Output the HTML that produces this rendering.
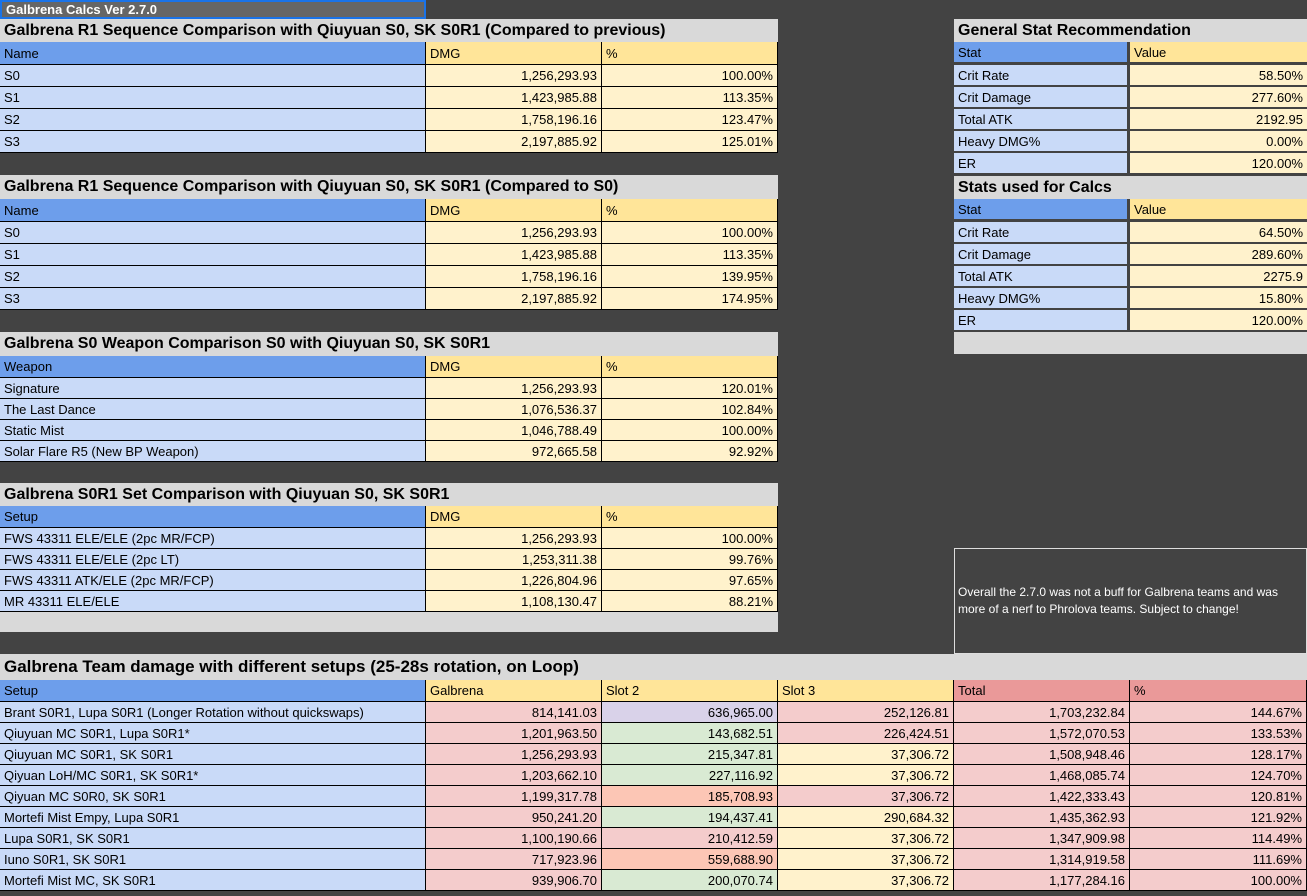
<!DOCTYPE html>
<html><head><meta charset="utf-8"><style>
html,body{margin:0;padding:0;}
body{width:1307px;height:896px;background:#434343;position:relative;overflow:hidden;font-family:"Liberation Sans",Arial,sans-serif;}
.c{position:absolute;box-sizing:border-box;font-size:13px;color:#000;white-space:nowrap;overflow:hidden;padding:0 4px;display:flex;align-items:center;}
.r{justify-content:flex-end;}
.b{border-right:1px solid #000;border-bottom:1px solid #000;}
.h{font-weight:bold;font-size:16px;background:#d9d9d9;}
</style></head><body>
<script>
const COLX=[0,426,602,778,954,1130,1307];
function cell(x1,x2,y,h,text,bg,cls,name,inter){
  const d=document.createElement('div');
  d.className='c '+(cls||'');
  d.style.left=x1+'px';d.style.top=y+'px';d.style.width=(x2-x1)+'px';d.style.height=h+'px';
  if(bg)d.style.background=bg;
  d.textContent=text;
  
  
  document.body.appendChild(d);return d;
}
const BLUEH='#6d9eeb',BLUE='#c9daf8',YELH='#ffe599',YEL='#fff2cc',REDH='#ea9999',RED='#f4cccc',GRN='#d9ead3',PUR='#d9d2e9',SAL='#fcc6b5';

let t=cell(0,426,0,19,'Galbrena Calcs Ver 2.7.0','#666666','','sheet-title',true);
t.style.color='#fff';t.style.fontWeight='bold';t.style.border='2px solid #1a73e8';t.style.fontSize='13px';

const seqNames=['S0','S1','S2','S3'];
const seqDmg=['1,256,293.93','1,423,985.88','1,758,196.16','2,197,885.92'];
const seqPctPrev=['100.00%','113.35%','123.47%','125.01%'];
const seqPctS0=['100.00%','113.35%','139.95%','174.95%'];
const wpnNames=['Signature','The Last Dance','Static Mist','Solar Flare R5 (New BP Weapon)'];
const wpnDmg=['1,256,293.93','1,076,536.37','1,046,788.49','972,665.58'];
const wpnPct=['120.01%','102.84%','100.00%','92.92%'];
const setNames=['FWS 43311 ELE/ELE (2pc MR/FCP)','FWS 43311 ELE/ELE (2pc LT)','FWS 43311 ATK/ELE (2pc MR/FCP)','MR 43311 ELE/ELE'];
const setDmg=['1,256,293.93','1,253,311.38','1,226,804.96','1,108,130.47'];
const setPct=['100.00%','99.76%','97.65%','88.21%'];

function table3(hy,title,first,names,dmg,pct,rows,rh,prefix){
  cell(0,778,hy,rows[0]-hy,title,null,'h',prefix+'-title');
  cell(0,426,rows[0],rows[1]-rows[0],first,BLUEH,'b',prefix+'-header-name');
  cell(426,602,rows[0],rows[1]-rows[0],'DMG',YELH,'b',prefix+'-header-dmg');
  cell(602,778,rows[0],rows[1]-rows[0],'%',YELH,'b',prefix+'-header-pct');
  for(let i=0;i<names.length;i++){
    const y=rows[1]+i*rh;
    cell(0,426,y,rh,names[i],BLUE,'b',prefix+'-name-'+i);
    cell(426,602,y,rh,dmg[i],YEL,'b r',prefix+'-dmg-'+i);
    cell(602,778,y,rh,pct[i],YEL,'b r',prefix+'-pct-'+i);
  }
}
table3(19,'Galbrena R1 Sequence Comparison with Qiuyuan S0, SK S0R1 (Compared to previous)','Name',seqNames,seqDmg,seqPctPrev,[42,65],22,'seq-prev');
table3(175,'Galbrena R1 Sequence Comparison with Qiuyuan S0, SK S0R1 (Compared to S0)','Name',seqNames,seqDmg,seqPctS0,[199,222],22,'seq-s0');
table3(332,'Galbrena S0 Weapon Comparison S0 with Qiuyuan S0, SK S0R1','Weapon',wpnNames,wpnDmg,wpnPct,[356,378],21,'weapon');
table3(483,'Galbrena S0R1 Set Comparison with Qiuyuan S0, SK S0R1','Setup',setNames,setDmg,setPct,[506,528],21,'set');
cell(0,778,612,20,'','#d9d9d9','','set-footer');

const statNames=['Crit Rate','Crit Damage','Total ATK','Heavy DMG%','ER'];
const recVals=['58.50%','277.60%','2192.95','0.00%','120.00%'];
const usedVals=['64.50%','289.60%','2275.9','15.80%','120.00%'];
function stats(y,title,vals,prefix){
  cell(954,1307,y,23,title,null,'h',prefix+'-title');
  let a=cell(954,1130,y+23,23,'Stat',BLUEH,'',prefix+'-header-stat');a.style.borderRight='3px solid #434343';a.style.borderBottom='3px solid #434343';
  a=cell(1130,1307,y+23,23,'Value',YELH,'',prefix+'-header-value');a.style.borderBottom='3px solid #434343';
  for(let i=0;i<5;i++){
    const yy=y+46+i*22;
    a=cell(954,1130,yy,22,statNames[i],BLUE,'',prefix+'-stat-'+i);a.style.borderRight='3px solid #434343';a.style.borderBottom='2px solid #434343';
    a=cell(1130,1307,yy,22,vals[i],YEL,'r',prefix+'-value-'+i);a.style.borderBottom='2px solid #434343';
  }
}
stats(19,'General Stat Recommendation',recVals,'rec');
stats(176,'Stats used for Calcs',usedVals,'used');
cell(954,1307,332,22,'','#d9d9d9','','stats-footer');

let n=cell(954,1307,548,106,'Overall the 2.7.0 was not a buff for Galbrena teams and was more of a nerf to Phrolova teams. Subject to change!',null,'','note-box');
n.style.whiteSpace='normal';n.style.color='#fff';n.style.fontSize='12px';n.style.border='1px solid #ddd';n.style.lineHeight='17px';n.style.paddingLeft='3px';n.style.paddingRight='14px';

const teamNames=['Brant S0R1, Lupa S0R1 (Longer Rotation without quickswaps)','Qiuyuan MC S0R1, Lupa S0R1*','Qiuyuan MC S0R1, SK S0R1','Qiyuan LoH/MC S0R1, SK S0R1*','Qiyuan MC S0R0, SK S0R1','Mortefi Mist Empy, Lupa S0R1','Lupa S0R1, SK S0R1','Iuno S0R1, SK  S0R1','Mortefi Mist MC, SK S0R1'];
const galbDmg=['814,141.03','1,201,963.50','1,256,293.93','1,203,662.10','1,199,317.78','950,241.20','1,100,190.66','717,923.96','939,906.70'];
const slot2Dmg=['636,965.00','143,682.51','215,347.81','227,116.92','185,708.93','194,437.41','210,412.59','559,688.90','200,070.74'];
const slot3Dmg=['252,126.81','226,424.51','37,306.72','37,306.72','37,306.72','290,684.32','37,306.72','37,306.72','37,306.72'];
const totalDmg=['1,703,232.84','1,572,070.53','1,508,948.46','1,468,085.74','1,422,333.43','1,435,362.93','1,347,909.98','1,314,919.58','1,177,284.16'];
const totalPct=['144.67%','133.53%','128.17%','124.70%','120.81%','121.92%','114.49%','111.69%','100.00%'];
const slot2Bg=[PUR,GRN,GRN,GRN,SAL,GRN,RED,SAL,GRN];
const slot3Bg=[RED,RED,YEL,YEL,RED,YEL,YEL,YEL,YEL];
cell(0,1307,654,26,'Galbrena Team damage with different setups (25-28s rotation, on Loop)',null,'h','team-title').style.fontSize='17px';
const th=['Setup','Galbrena','Slot 2','Slot 3','Total','%'];
const thBg=[BLUEH,YELH,YELH,YELH,REDH,REDH];
for(let c=0;c<6;c++){
  cell(COLX[c],COLX[c+1],680,22,th[c],thBg[c],'b','team-header-'+c);
}
for(let i=0;i<teamNames.length;i++){
  const y=702+i*21;
  cell(0,426,y,21,teamNames[i],BLUE,'b','team-setup-'+i);
  cell(426,602,y,21,galbDmg[i],RED,'b r','team-galbrena-'+i);
  cell(602,778,y,21,slot2Dmg[i],slot2Bg[i],'b r','team-slot2-'+i);
  cell(778,954,y,21,slot3Dmg[i],slot3Bg[i],'b r','team-slot3-'+i);
  cell(954,1130,y,21,totalDmg[i],RED,'b r','team-total-'+i);
  cell(1130,1307,y,21,totalPct[i],RED,'b r','team-pct-'+i);
}
</script>
</body></html>
